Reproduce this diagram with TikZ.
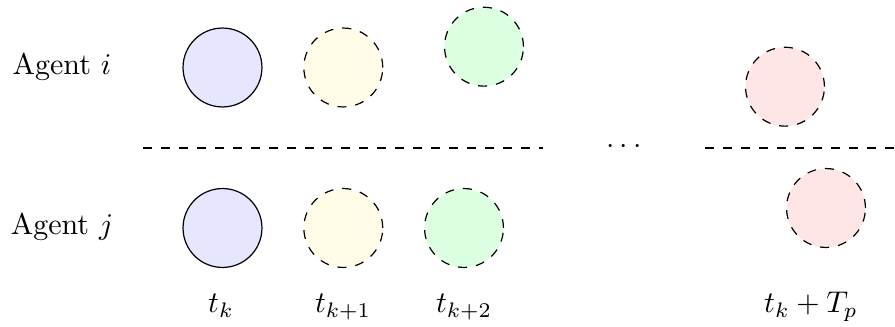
\documentclass[tikz,border=0pt]{standalone}
\begin{document}
\begin{tikzpicture}[x=0.3333pt,y=-0.3333pt,
  agent/.style={circle,draw,minimum size=26.3pt,inner sep=0pt,line width=0.4pt},
  pred/.style={agent,dashed},
  lbl/.style={inner sep=0pt}]
\useasboundingbox (0,0) rectangle (895,327);
\definecolor{cblue}{RGB}{230,230,255}
\definecolor{cyellow}{RGB}{255,252,232}
\definecolor{cgreen}{RGB}{220,255,226}
\definecolor{cred}{RGB}{255,230,230}
% labels
\node[lbl] (ai) at (62,67) {Agent $i$};
\node[lbl] (aj) at (62,227) {Agent $j$};
% agent i
\node[agent,fill=cblue] (i0) at (222.5,67.5) {};
\node[pred,fill=cyellow] (i1) at (343.3,67.5) {};
\node[pred,fill=cgreen] (i2) at (484,46.7) {};
\node[pred,fill=cred] (ip) at (785,86.7) {};
% agent j
\node[agent,fill=cblue] (j0) at (222.5,228) {};
\node[pred,fill=cyellow] (j1) at (343.3,228) {};
\node[pred,fill=cgreen] (j2) at (464,228) {};
\node[pred,fill=cred] (jp) at (826,208) {};
% separator
\coordinate (s1) at (143,148);
\coordinate (s2) at (543,148);
\coordinate (s3) at (705,148);
\coordinate (s4) at (895,148);
\draw[dashed] (s1) -- (s2);
\draw[dashed] (s3) -- (s4);
\node[lbl] (dots) at (624,147) {$\cdots$};
% time labels
\node[lbl,anchor=base] (t0) at (221,313) {$t_k$};
\node[lbl,anchor=base] (t1) at (343,313) {$t_{k+1}$};
\node[lbl,anchor=base] (t2) at (464,313) {$t_{k+2}$};
\node[lbl,anchor=base] (tp) at (811,313) {$t_k+T_p$};
\end{tikzpicture}
\end{document}
